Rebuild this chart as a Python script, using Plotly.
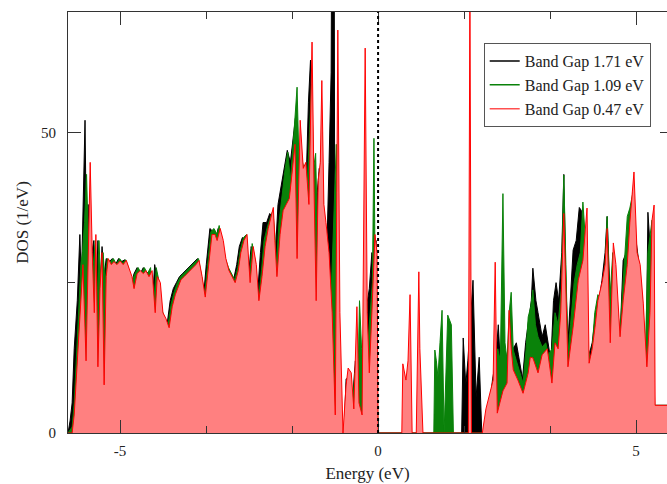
import plotly.graph_objects as go

# Density of states for three band-gap configurations (energy in eV, DOS in 1/eV)
e_171 = [-6.01, -5.97, -5.93, -5.89, -5.83, -5.78, -5.75, -5.71, -5.68, -5.65, -5.62, -5.58, -5.55, -5.51,
         -5.47, -5.43, -5.39, -5.35, -5.31, -5.27, -5.21, -5.15, -5.09, -5.03, -4.97, -4.91, -4.85, -4.79,
         -4.73, -4.67, -4.61, -4.55, -4.49, -4.43, -4.38, -4.33, -4.27, -4.21, -4.15, -4.09, -4.03, -3.97,
         -3.91, -3.85, -3.79, -3.73, -3.67, -3.61, -3.55, -3.50, -3.44, -3.38, -3.33, -3.26, -3.20, -3.14,
         -3.10, -3.04, -2.98, -2.92, -2.86, -2.80, -2.74, -2.69, -2.63, -2.57, -2.52, -2.46, -2.40, -2.34,
         -2.28, -2.23, -2.16, -2.10, -2.06, -2.02, -1.99, -1.94, -1.88, -1.82, -1.76, -1.70, -1.64, -1.60,
         -1.55, -1.50, -1.45, -1.40, -1.35, -1.31, -1.27, -1.22, -1.18, -1.14, -1.10, -1.06, -1.00, -0.95,
         -0.91, -0.90, -0.85, -0.84, -0.80, -0.76, -0.72, -0.66, -0.62, -0.56, -0.50, -0.44, -0.40, -0.35,
         -0.30, -0.24, -0.17, -0.12, -0.08, -0.04, -0.01,
         1.62, 1.65, 1.70, 1.74, 1.84, 1.90, 1.96, 2.01, 2.10, 2.16, 2.22, 2.28, 2.33, 2.38, 2.44, 2.50,
         2.56, 2.62, 2.68, 2.72, 2.80, 2.86, 2.92, 2.97, 3.00, 3.06, 3.10, 3.18, 3.24, 3.30, 3.35, 3.40,
         3.45, 3.50, 3.56, 3.60, 3.64, 3.68, 3.73, 3.78, 3.84, 3.90, 3.94, 3.97, 4.03, 4.09, 4.15, 4.22,
         4.28, 4.34, 4.40, 4.44, 4.50, 4.56, 4.62, 4.69, 4.75, 4.81, 4.88, 4.94, 5.00, 5.06, 5.12, 5.18,
         5.20, 5.23, 5.28, 5.32, 5.36, 5.70]
dos_171 = [0, 2, 5, 14, 22, 33, 25, 40, 52, 30, 38, 28, 30, 32,
           22, 32, 24, 31, 26, 29, 28.5, 29, 28, 29, 28.5, 28.8, 27.5, 24.5,
           26.5, 27.5, 26.5, 27.5, 26.5, 27, 21, 28, 25, 20.5, 19, 18, 22, 24,
           25, 26, 26.5, 27, 27.5, 28, 28.5, 29, 26, 23, 28, 34, 33.5, 32.5,
           34, 32, 29, 27.5, 26.5, 25.5, 28, 31, 32.5, 32, 25.5, 31, 28.5, 22.5,
           30, 35, 35, 36.5, 36, 32, 30, 38, 41, 44, 47, 45, 50, 52.5,
           45, 47, 44, 40, 55, 62, 45, 30, 40, 44, 40, 35, 28, 45,
           60, 80, 80, 30, 15, 8, 0, 0, 9, 9, 5, 12, 3, 8,
           15, 20, 24, 30, 28, 32, 0,
           0, 15.8, 8, 12, 25.4, 6, 12.6, 0, 0, 5, 9, 12, 18, 10, 12, 13,
           16, 14, 15, 13, 9, 15, 19, 22, 27.4, 22, 20, 16, 18, 15, 12, 22,
           25, 22, 30, 43, 25, 15, 22, 30.4, 32, 37.5, 37, 25, 18, 13, 15, 20,
           22, 25.4, 30, 36, 22, 28, 20, 16, 28.7, 30, 37, 38, 32, 28, 22, 14,
           15, 36.7, 30, 34, 4.6, 4.6]

e_109 = [-6.01, -5.93, -5.89, -5.85, -5.80, -5.76, -5.73, -5.69, -5.65, -5.61, -5.58, -5.55, -5.52, -5.48,
         -5.45, -5.41, -5.37, -5.33, -5.29, -5.25, -5.19, -5.13, -5.07, -5.01, -4.95, -4.89, -4.84, -4.78,
         -4.71, -4.65, -4.59, -4.53, -4.47, -4.41, -4.35, -4.30, -4.24, -4.19, -4.13, -4.07, -4.01, -3.95,
         -3.89, -3.83, -3.77, -3.71, -3.65, -3.59, -3.53, -3.48, -3.42, -3.36, -3.31, -3.24, -3.18, -3.12,
         -3.08, -3.02, -2.96, -2.90, -2.84, -2.78, -2.72, -2.67, -2.61, -2.55, -2.50, -2.44, -2.38, -2.32,
         -2.26, -2.21, -2.14, -2.08, -2.04, -2.00, -1.97, -1.92, -1.86, -1.80, -1.75, -1.70, -1.63, -1.57,
         -1.53, -1.48, -1.43, -1.38, -1.33, -1.29, -1.25, -1.21, -1.17, -1.13, -1.09, -1.05, -1.01, -0.96,
         -0.92, -0.86, -0.81, -0.78, -0.74, -0.70, -0.64, -0.60, -0.55, -0.50, -0.45, -0.41, -0.36, -0.32,
         -0.29, -0.22, -0.16, -0.11, -0.08, -0.05, -0.02, 0.00,
         1.08, 1.10, 1.13, 1.16, 1.20, 1.24, 1.28, 1.30, 1.35, 1.42, 1.46,
         2.08, 2.13, 2.19, 2.26, 2.32, 2.37, 2.42, 2.46, 2.50, 2.54, 2.58, 2.62, 2.68, 2.75, 2.81, 2.87,
         2.91, 2.96, 3.00, 3.05, 3.10, 3.18, 3.25, 3.30, 3.37, 3.43, 3.49, 3.55, 3.60, 3.64, 3.68, 3.73,
         3.80, 3.86, 3.92, 3.97, 4.02, 4.07, 4.13, 4.20, 4.26, 4.34, 4.40, 4.44, 4.49, 4.55, 4.62, 4.69,
         4.75, 4.83, 4.88, 4.94, 5.00, 5.06, 5.12, 5.18, 5.23, 5.28, 5.31, 5.34, 5.36, 5.70]
dos_109 = [0, 1, 5, 12, 20, 28, 30, 35, 43, 30, 35, 26, 28, 32,
           20, 32, 24, 30, 25, 29, 28.5, 29, 28, 29, 28.3, 28.8, 27.5, 25,
           26.5, 27.5, 26.5, 27.5, 26.5, 27.5, 21, 27.5, 25, 20.5, 19, 18, 21.5, 23.5,
           25, 26, 26.5, 27, 27.5, 28, 28.5, 29, 26, 23, 27.5, 33.5, 34, 33,
           34.5, 32, 29, 27.5, 26.5, 25.5, 27.5, 30.5, 32.5, 33, 25, 31.5, 28.5, 22,
           27, 32, 34.5, 36, 37, 33, 28, 35, 40, 44, 46.7, 42, 50, 57.5,
           44, 46, 43, 40, 50, 58, 44, 46.5, 30, 42, 50, 35, 25, 14.6,
           20, 35, 48, 20, 5, 0, 0, 6, 9, 4, 10, 0, 22, 14,
           8, 12, 20, 25, 49, 20, 10, 0,
           0, 13.8, 12, 9.3, 15, 20.4, 0, 5, 19.6, 18, 0,
           0, 4, 7, 10, 14, 12, 39.8, 15, 12, 20, 23.4, 13.8, 12, 10, 8.3, 14,
           19.3, 21, 23.8, 18, 16, 14.3, 15, 13, 14, 20, 18, 24, 42.9, 28, 13, 18,
           25, 28, 30, 38.4, 32, 14, 12, 20, 23, 22, 28, 36, 22, 30, 22, 17,
           26, 36, 37.4, 40, 31, 28, 22, 13, 30, 33, 35.4, 22, 4.6, 4.6]

e_047 = [-6.01, -5.93, -5.89, -5.83, -5.78, -5.72, -5.66, -5.62, -5.58, -5.54, -5.50, -5.47, -5.43, -5.39,
         -5.35, -5.31, -5.27, -5.23, -5.17, -5.12, -5.06, -5.00, -4.94, -4.88, -4.83, -4.77, -4.73, -4.67,
         -4.61, -4.55, -4.50, -4.44, -4.38, -4.32, -4.28, -4.22, -4.17, -4.11, -4.05, -3.99, -3.93, -3.88,
         -3.82, -3.76, -3.70, -3.64, -3.58, -3.53, -3.47, -3.41, -3.35, -3.29, -3.22, -3.16, -3.12, -3.06,
         -3.00, -2.95, -2.89, -2.83, -2.77, -2.71, -2.66, -2.60, -2.54, -2.48, -2.42, -2.36, -2.31, -2.25,
         -2.19, -2.13, -2.07, -2.03, -2.00, -1.96, -1.90, -1.84, -1.78, -1.72, -1.67, -1.61, -1.57, -1.51,
         -1.45, -1.40, -1.34, -1.28, -1.24, -1.20, -1.16, -1.12, -1.09, -1.05, -1.01, -0.95, -0.89, -0.83,
         -0.80, -0.78, -0.74, -0.68, -0.62, -0.58, -0.52, -0.47, -0.41, -0.37, -0.31, -0.25, -0.21, -0.17,
         -0.12, -0.06, -0.02, 0.00,
         0.46, 0.48, 0.54, 0.58, 0.62, 0.66, 0.74, 0.79, 0.81, 0.87,
         1.75, 1.78, 1.81,
         2.02, 2.09, 2.17, 2.23, 2.27, 2.31, 2.36, 2.42, 2.50, 2.54, 2.58, 2.62, 2.71, 2.81, 2.91, 2.95,
         3.00, 3.10, 3.18, 3.28, 3.37, 3.43, 3.49, 3.54, 3.60, 3.68, 3.78, 3.88, 3.97, 4.05, 4.09, 4.15,
         4.21, 4.26, 4.34, 4.40, 4.44, 4.50, 4.56, 4.61, 4.69, 4.75, 4.83, 4.88, 4.96, 5.02, 5.08, 5.14,
         5.21, 5.27, 5.31, 5.35, 5.37, 5.70]
dos_047 = [0, 0, 3, 12, 20, 28, 12, 30, 45, 30, 20, 33, 11, 24,
           30, 8, 26, 29, 28, 28.5, 28, 28.6, 28, 28.7, 27.5, 26, 24, 26.5,
           27, 26.5, 27, 26, 27, 20, 26, 25, 20, 19, 17.5, 21, 23, 24,
           25.5, 26, 26.5, 27, 27.5, 28, 28.7, 26, 22.6, 27, 33, 33, 32, 34,
           32, 29, 27, 26, 25, 27, 30, 32, 33, 25, 31, 28, 22, 26,
           31, 34, 36, 37.5, 32, 26, 33, 37, 38, 39, 43, 48, 29, 52,
           44, 45, 38, 65, 40, 22, 42, 45, 58.6, 38, 35, 30, 20, 3,
           40, 67, 20, 0, 8, 10.8, 10, 4, 21, 5, 3, 64, 20, 10,
           20, 33, 30, 0,
           0, 11.5, 8.8, 12, 23, 0, 0, 26.8, 14, 0,
           0, 75, 0,
           0, 4, 6.6, 8.8, 28.4, 3.3, 5, 7, 8.3, 20.4, 14, 10.5, 8.8, 6.6, 10, 12.6,
           12.5, 10, 13, 14, 8.3, 15, 14, 20, 36.5, 11, 17.6, 25.4, 28.7, 37.4, 11.6, 14,
           18, 22, 25, 28, 34, 15, 31.6, 28, 16, 22, 28, 35, 43.4, 30, 28, 21.6,
           11, 20, 35.4, 37.9, 4.6, 4.6]

series_names = ["Band Gap 1.71 eV", "Band Gap 1.09 eV", "Band Gap 0.47 eV"]
x_ticks = [-5, 0, 5]
x_tick_text = ["-5", "0", "5"]
y_ticks = [0, 50]

SERIF = "Liberation Serif"
FRAME = "#333333"

fig = go.Figure()

# filled curves, drawn back to front
fills = [
    (e_171, dos_171, "#000000", "#000000"),
    (e_109, dos_109, "#0a820a", "#0a820a"),
    (e_047, dos_047, "#ff0000", "#ff8080"),
]
for xs, ys, lc, fc in fills:
    fig.add_trace(go.Scatter(x=xs, y=ys, mode="lines", fill="tozeroy",
                             fillcolor=fc, line=dict(color=lc, width=1),
                             showlegend=False, hoverinfo="skip"))

# legend entries show plain line samples
for name, col in zip(series_names, ["#000000", "#0a820a", "#ff5050"]):
    fig.add_trace(go.Scatter(x=[None], y=[None], mode="lines", name=name,
                             line=dict(color=col, width=1.5)))

# carrier for the right-hand tick marks
fig.add_trace(go.Scatter(x=[None], y=[None], yaxis="y2", showlegend=False,
                         hoverinfo="skip"))

# Fermi level
fig.add_vline(x=0, line=dict(color="#000000", width=2, dash="dot"))

fig.update_layout(
    width=667, height=484,
    margin=dict(l=68, r=0, t=12, b=51),
    paper_bgcolor="white", plot_bgcolor="white",
    font=dict(family=SERIF, size=15, color="#222222"),
    xaxis=dict(range=[-6.01, 5.6], tickvals=x_ticks, ticktext=x_tick_text,
               ticks="inside", ticklen=13,
               tickcolor=FRAME, showline=True, linecolor=FRAME, linewidth=1,
               mirror="ticks", showgrid=False, zeroline=False,
               minor=dict(dtick=5 / 3, tick0=0, ticks="inside", ticklen=7,
                          tickcolor=FRAME, showgrid=False),
               ticklabelstandoff=4,
               title=dict(text="Energy (eV)", font=dict(size=17), standoff=9)),
    yaxis=dict(range=[0, 70], tickvals=y_ticks, ticks="inside", ticklen=13,
               tickcolor=FRAME, showline=True, linecolor=FRAME, linewidth=1,
               showgrid=False, zeroline=False,
               minor=dict(dtick=25, tick0=0, ticks="inside", ticklen=7,
                          tickcolor=FRAME, showgrid=False),
               ticklabelstandoff=8,
               title=dict(text="DOS (1/eV)", font=dict(size=17), standoff=8)),
    yaxis2=dict(range=[0, 70], overlaying="y", side="right", anchor="x",
                tickvals=y_ticks, ticks="inside", ticklen=7, tickcolor=FRAME,
                showticklabels=False, showline=False, showgrid=False, zeroline=False,
                minor=dict(dtick=25, tick0=0, ticks="inside", ticklen=2,
                           tickcolor=FRAME, showgrid=False)),
    legend=dict(x=0.694, y=0.926, xanchor="left", yanchor="top",
                bgcolor="white", bordercolor="#555555", borderwidth=1,
                font=dict(family=SERIF, size=16, color="#222222"),
                tracegroupgap=0, itemwidth=30),
    showlegend=True,
)

fig.write_html("out.html")
